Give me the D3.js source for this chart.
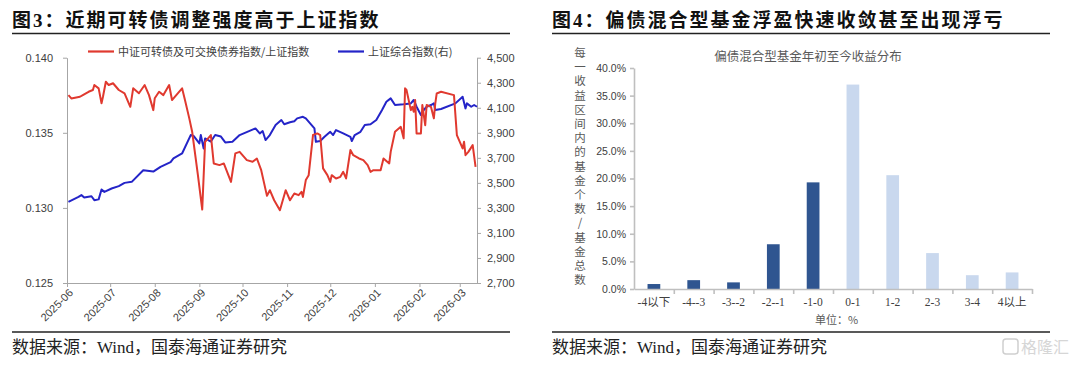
<!DOCTYPE html>
<html><head><meta charset="utf-8">
<script src="https://cdn.jsdelivr.net/npm/d3@7"></script>
<style>body{margin:0;background:#fff} svg{display:block}</style>
</head><body>
<svg id="c" width="1080" height="365"></svg>
<script>
// ---------- Data: figure 3 ----------
const redDates = ["2025-06-02","2025-06-04","2025-06-10","2025-06-12","2025-06-16","2025-06-19","2025-06-20","2025-06-23","2025-06-25","2025-06-26","2025-06-28","2025-06-30","2025-07-03","2025-07-07","2025-07-11","2025-07-15","2025-07-17","2025-07-21","2025-07-25","2025-07-28","2025-07-31","2025-08-01","2025-08-04","2025-08-07","2025-08-11","2025-08-13","2025-08-17","2025-08-20","2025-08-22","2025-08-25","2025-08-27","2025-08-31","2025-09-03","2025-09-05","2025-09-09","2025-09-11","2025-09-15","2025-09-18","2025-09-23","2025-09-26","2025-09-29","2025-10-04","2025-10-08","2025-10-11","2025-10-14","2025-10-18","2025-10-20","2025-10-23","2025-10-27","2025-10-31","2025-11-03","2025-11-06","2025-11-09","2025-11-11","2025-11-12","2025-11-14","2025-11-16","2025-11-19","2025-11-22","2025-11-24","2025-11-26","2025-11-29","2025-12-01","2025-12-02","2025-12-05","2025-12-08","2025-12-10","2025-12-12","2025-12-15","2025-12-17","2025-12-21","2025-12-24","2025-12-27","2025-12-29","2025-12-31","2026-01-05","2026-01-07","2026-01-11","2026-01-12","2026-01-15","2026-01-19","2026-01-21","2026-01-22","2026-01-23","2026-01-26","2026-01-27","2026-01-28","2026-01-29","2026-01-30","2026-02-02","2026-02-03","2026-02-05","2026-02-06","2026-02-09","2026-02-11","2026-02-12","2026-02-13","2026-02-16","2026-02-25","2026-02-26","2026-02-27","2026-03-03","2026-03-04","2026-03-05","2026-03-07","2026-03-10","2026-03-12"];
const redValues = [0.13751,0.13729,0.13740,0.13751,0.13773,0.13785,0.13818,0.13796,0.13696,0.13740,0.13840,0.13818,0.13830,0.13785,0.13763,0.13673,0.13796,0.13763,0.13818,0.13751,0.13651,0.13730,0.13773,0.13751,0.13818,0.13718,0.13763,0.13796,0.13718,0.13596,0.13507,0.13218,0.12989,0.13440,0.13485,0.13296,0.13285,0.13296,0.13173,0.13363,0.13373,0.13318,0.13307,0.13329,0.13251,0.13080,0.13118,0.13051,0.12985,0.13118,0.13051,0.13096,0.13085,0.13107,0.13073,0.13185,0.13218,0.13485,0.13496,0.13485,0.13263,0.13218,0.13173,0.13218,0.13196,0.13207,0.13240,0.13196,0.13385,0.13351,0.13329,0.13318,0.13285,0.13240,0.13251,0.13251,0.13329,0.13296,0.13373,0.13507,0.13540,0.13463,0.13796,0.13785,0.13651,0.13673,0.13640,0.13718,0.13496,0.13496,0.13685,0.13551,0.13685,0.13673,0.13596,0.13696,0.13762,0.13773,0.13751,0.13618,0.13485,0.13396,0.13440,0.13351,0.13373,0.13418,0.13273];
const blueDates = ["2025-06-02","2025-06-09","2025-06-11","2025-06-13","2025-06-18","2025-06-20","2025-06-23","2025-06-25","2025-06-27","2025-07-02","2025-07-07","2025-07-11","2025-07-16","2025-07-24","2025-07-31","2025-08-05","2025-08-12","2025-08-14","2025-08-20","2025-08-26","2025-08-28","2025-09-01","2025-09-02","2025-09-04","2025-09-05","2025-09-09","2025-09-12","2025-09-16","2025-09-19","2025-09-24","2025-09-29","2025-10-10","2025-10-13","2025-10-15","2025-10-17","2025-10-20","2025-10-24","2025-10-28","2025-10-30","2025-11-03","2025-11-06","2025-11-08","2025-11-12","2025-11-14","2025-11-17","2025-11-20","2025-11-21","2025-11-24","2025-11-27","2025-12-01","2025-12-03","2025-12-05","2025-12-10","2025-12-15","2025-12-16","2025-12-18","2025-12-22","2025-12-25","2025-12-29","2026-01-02","2026-01-06","2026-01-09","2026-01-12","2026-01-15","2026-01-21","2026-01-26","2026-01-28","2026-01-30","2026-02-02","2026-02-04","2026-02-06","2026-02-09","2026-02-11","2026-02-12","2026-02-16","2026-02-26","2026-03-03","2026-03-05","2026-03-06","2026-03-09","2026-03-11","2026-03-13"];
const blueValues = [3348,3388,3402,3383,3393,3362,3368,3447,3428,3455,3474,3500,3508,3601,3590,3628,3665,3695,3735,3882,3875,3815,3882,3775,3855,3830,3882,3870,3823,3828,3882,3935,3895,3914,3842,3882,3962,4002,3968,3984,3992,4015,4028,4015,3975,3935,3828,3834,3868,3908,3882,3922,3895,3868,3834,3882,3908,3962,3968,4002,4082,4148,4175,4122,4128,4135,4162,4108,4042,4082,4108,4122,4135,4082,4090,4135,4188,4095,4135,4108,4122,4108];
const leftTicks = [0.125, 0.130, 0.135, 0.140];
const rightTicks = [2700, 2900, 3100, 3300, 3500, 3700, 3900, 4100, 4300, 4500];
const monthTicks = ["2025-06","2025-07","2025-08","2025-09","2025-10","2025-11","2025-12","2026-01","2026-02","2026-03"];
const seriesNames = ["中证可转债及可交换债券指数/上证指数", "上证综合指数(右)"];

// ---------- Data: figure 4 ----------
const binCategories = ["-4以下","-4--3","-3--2","-2--1","-1-0","0-1","1-2","2-3","3-4","4以上"];
const binShares = [0.9, 1.6, 1.2, 8.1, 19.3, 37.0, 20.6, 6.5, 2.5, 3.0];
const pctTicks = [0, 5, 10, 15, 20, 25, 30, 35, 40];
const yLabelText = "每一收益区间内的基金个数/基金总数";

const titles = ["图3：近期可转债调整强度高于上证指数", "图4：偏债混合型基金浮盈快速收敛甚至出现浮亏"];
const sourceText = "数据来源：Wind，国泰海通证券研究";

// ---------- Drawing ----------
const svg = d3.select("#c");
const RED = "#E0392F", BLUE = "#2424C8", AX = "#A6A6A6", TXT = "#404040";
const serif = "'Liberation Serif','Noto Sans CJK SC',serif";
const sans = "'Liberation Sans','Noto Sans CJK SC',sans-serif";
const cjk = "'Noto Sans CJK SC',sans-serif";

// Titles / footers
[[12, 510], [552, 1050]].forEach(([x0, x1], i) => {
  svg.append("text").attr("x", x0).attr("y", 27).text(titles[i])
    .attr("font-family", serif).attr("font-weight", "bold").attr("font-size", 19)
    .attr("letter-spacing", 2).attr("fill", "#111");
  svg.append("line").attr("x1", x0).attr("x2", x1).attr("y1", 33.5).attr("y2", 33.5)
    .attr("stroke", "#222").attr("stroke-width", 1.6);
  svg.append("line").attr("x1", x0).attr("x2", x1).attr("y1", 332).attr("y2", 332)
    .attr("stroke", "#222").attr("stroke-width", 1.4);
  svg.append("text").attr("x", x0).attr("y", 353).text(sourceText)
    .attr("font-family", serif).attr("font-size", 17).attr("fill", "#222");
});
// watermark
const wm = svg.append("g").attr("transform", "translate(1003,337)");
wm.append("rect").attr("x", 0).attr("y", 2).attr("width", 15).attr("height", 15).attr("rx", 3)
  .attr("fill", "none").attr("stroke", "#cfcfcf").attr("stroke-width", 1.5);
wm.append("text").attr("x", 18).attr("y", 16).text("格隆汇").attr("font-family", cjk)
  .attr("font-size", 16).attr("fill", "#d6d6d6");

// ---------- Figure 3 ----------
const parseD = d3.timeParse("%Y-%m-%d");
const parseM = d3.timeParse("%Y-%m");
const x = d3.scaleTime().domain([parseD("2025-06-01"), parseD("2026-03-13")]).range([67, 477]);
const yL = d3.scaleLinear().domain([0.125, 0.140]).range([283, 57.7]);
const yR = d3.scaleLinear().domain([2700, 4500]).range([283, 57.7]);

function styleAxis(g) {
  g.selectAll("path,line").attr("stroke", AX);
  g.selectAll("text").attr("fill", TXT).attr("font-family", sans).attr("font-size", 11);
}
svg.append("g").attr("transform", "translate(67,0)")
  .call(d3.axisLeft(yL).tickValues(leftTicks).tickFormat(d3.format(".3f")).tickSizeInner(4).tickSizeOuter(0).tickPadding(10))
  .call(styleAxis);
svg.append("g").attr("transform", "translate(477,0)")
  .call(d3.axisRight(yR).tickValues(rightTicks).tickFormat(d3.format(",")).tickSizeInner(4).tickSizeOuter(0).tickPadding(6))
  .call(styleAxis);
const xg = svg.append("g").attr("transform", "translate(0,283)")
  .call(d3.axisBottom(x).tickValues(monthTicks.map(parseM)).tickFormat(d3.timeFormat("%Y-%m")).tickSizeInner(4).tickSizeOuter(0))
  .call(styleAxis);
xg.selectAll("text").attr("text-anchor", "end").attr("x", -3).attr("y", 8).attr("dy", "0.35em")
  .attr("transform", "rotate(-45)");

const redData = redDates.map((d, i) => [parseD(d), redValues[i]]);
const blueData = blueDates.map((d, i) => [parseD(d), blueValues[i]]);
svg.append("path").datum(blueData).attr("fill", "none").attr("stroke", BLUE).attr("stroke-width", 2)
  .attr("stroke-linejoin", "round").attr("d", d3.line().x(d => x(d[0])).y(d => yR(d[1])));
svg.append("path").datum(redData).attr("fill", "none").attr("stroke", RED).attr("stroke-width", 2)
  .attr("stroke-linejoin", "round").attr("d", d3.line().x(d => x(d[0])).y(d => yL(d[1])));

// legend
[[88, RED], [338, BLUE]].forEach(([lx, c], i) => {
  svg.append("line").attr("x1", lx).attr("x2", lx + 26).attr("y1", 51.5).attr("y2", 51.5)
    .attr("stroke", c).attr("stroke-width", 2.2);
  svg.append("text").attr("x", lx + 30).attr("y", 55.5).text(seriesNames[i])
    .attr("font-family", cjk).attr("font-size", 11).attr("fill", TXT);
});

// ---------- Figure 4 ----------
const xb = d3.scaleBand().domain(binCategories).range([634, 1032]).paddingInner(0.68).paddingOuter(0.34);
const xe = d3.scaleLinear().domain([0, binCategories.length]).range([634, 1032]);
const yb = d3.scaleLinear().domain([0, 40]).range([289, 68]);
const AX2 = "#BFBFBF";

svg.append("text").attr("x", 808).attr("y", 61).attr("text-anchor", "middle")
  .text("偏债混合型基金年初至今收益分布").attr("font-family", cjk).attr("font-size", 12.5).attr("fill", "#595959");

svg.selectAll("rect.bar").data(binShares).enter().append("rect").attr("class", "bar")
  .attr("x", (d, i) => xb(binCategories[i])).attr("width", xb.bandwidth())
  .attr("y", d => yb(d)).attr("height", d => yb(0) - yb(d))
  .attr("fill", (d, i) => i < 5 ? "#2F5590" : "#C9D8EE");

const ya = svg.append("g").attr("transform", "translate(634,0)")
  .call(d3.axisLeft(yb).tickValues(pctTicks).tickFormat(d => d.toFixed(1) + "%").tickSizeInner(4).tickSizeOuter(0).tickPadding(4));
ya.selectAll("path,line").attr("stroke", AX2).attr("stroke-width", 1.6);
ya.selectAll("text").attr("fill", TXT).attr("font-family", sans).attr("font-size", 10.5);

const xa = svg.append("g").attr("transform", "translate(0,289)")
  .call(d3.axisBottom(xe).tickValues(d3.range(1, binCategories.length + 1)).tickFormat("").tickSizeInner(5).tickSizeOuter(0));
xa.selectAll("path,line").attr("stroke", AX2).attr("stroke-width", 1.6);
const xl = svg.append("g").attr("transform", "translate(0,289)")
  .call(d3.axisBottom(xb).tickSize(0).tickPadding(9));
xl.select("path").remove();
xl.selectAll("text").attr("fill", TXT).attr("font-family", serif).attr("font-size", 11.5);

// vertical y label
yLabelText.split("").forEach((ch, i) => {
  svg.append("text").attr("x", 580).attr("y", 57 + i * 14.2).attr("text-anchor", "middle")
    .text(ch).attr("font-family", cjk).attr("font-size", 11.5).attr("fill", "#595959");
});
svg.append("text").attr("x", 815).attr("y", 324).text("单位：%")
  .attr("font-family", cjk).attr("font-size", 11).attr("fill", "#595959");
</script>
</body></html>
